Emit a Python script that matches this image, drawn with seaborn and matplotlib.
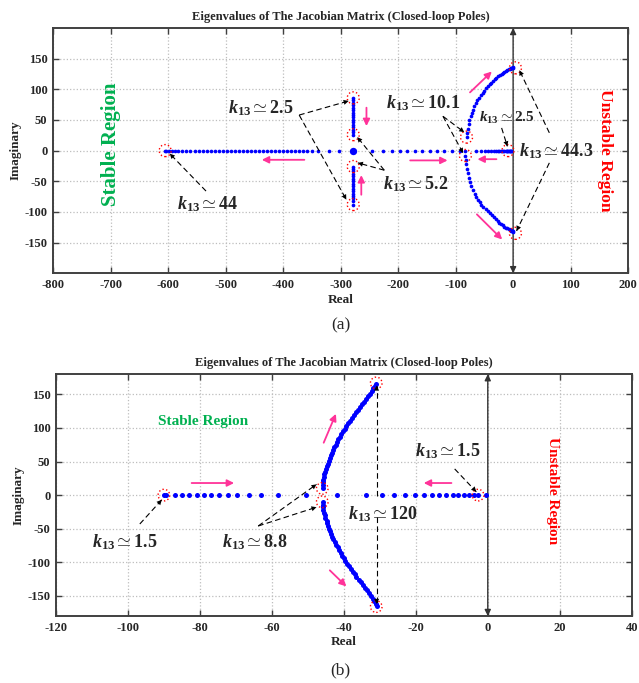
import numpy as np
import pandas as pd
import matplotlib
matplotlib.use("Agg")
import matplotlib.pyplot as plt
from matplotlib.patches import FancyArrowPatch
import seaborn as sns

# ---------------- panel (a) pole loci ----------------
a_left_real = [-303, -321, -339, -350, -358, -365, -372, -379, -386, -393, -400, -407,
               -414, -421, -428, -435, -442, -449, -456, -463, -470, -477, -484, -491,
               -498, -505, -512, -519, -526, -533, -540, -547, -554, -561, -568, -575,
               -582, -588, -594, -599, -603, -606]
a_mid_real = [-246, -226, -211, -197, -184, -171, -158, -145, -133, -120, -107, -93, -83]
a_right_real = [-64, -56, -49, -43, -38, -34, -30, -27, -24, -21.5, -19, -17, -15, -13,
                -11.5, -10, -8.5, -7, -6, -5, -4, -3]
a_vert_real = -278
a_vert_up_imag = [86, 82, 78, 74, 70, 66, 62, 58, 54, 50, 46, 42, 38, 34, 30, 26]
a_vert_dn_imag = [-26, -30, -34, -38, -42, -46, -50, -54, -58, -62, -66, -70, -74,
                  -78, -83, -88]
a_break_real = [-278]
a_break_imag = [0]
a_arc_up_real = [-81, -80, -79, -77.5, -76, -74, -72, -70, -67.5, -65, -62, -59, -56, -53,
                 -50, -47, -44, -41, -38, -35, -32, -29, -26, -23, -20, -17.5, -15, -12.5,
                 -10, -8, -6, -4.5, -3, -2, -1, 0]
a_arc_up_imag = [22, 29, 36, 43, 50, 56, 62, 67, 72, 77, 82, 86, 90, 94, 98, 102, 105, 108,
                 111, 114, 116, 118.5, 121, 123, 125, 127, 128.5, 130, 131.5, 132.5, 133.5,
                 134, 134.5, 135, 135.5, 136]
a_arc_dn_real = [-83, -82.5, -81.5, -80, -78.5, -76.5, -74.5, -72.5, -70, -67, -64, -61,
                 -58, -55, -51.5, -48, -44.5, -41, -37.5, -34, -30.5, -27, -24, -21, -18,
                 -15, -12.5, -10, -8, -6, -4.5, -3, -2, -1, 0]
a_arc_dn_imag = [-8, -15, -22, -30, -37, -44, -51, -58, -64, -70, -75, -80, -84, -88, -91.5,
                 -95, -98.5, -102, -105.5, -109, -112, -115, -117.5, -120, -122, -124,
                 -125.5, -127, -128, -129, -130, -130.5, -131, -131.5, -132]
a_mark_real = [-605, -278, -278, -278, -278, -81, -83, -9, 4, 4]
a_mark_imag = [0, 86, -88, 26, -26, 22, -8, 0, 135, -135]

# ---------------- panel (b) pole loci ----------------
b_left_real = [-90, -89.3, -87, -85.1, -83, -80.9, -78.9, -76.8, -74.6, -72.3, -69.6,
               -66.4, -62.9, -58.2, -50.4]
b_right_real = [-41.9, -33.9, -29.5, -26.1, -23.1, -20.3, -17.8, -15.5, -13.5, -11.7,
                -9.8, -8.2, -6.6, -5.2, -3.9, -2.7, -0.4]
b_arc_up_real = [-45.9, -45.9, -45.8, -45.7, -45.6, -45.4, -45.2, -45.0, -44.8, -44.5,
                 -44.2, -43.9, -43.6, -43.3, -43.0, -42.7, -42.3, -41.9, -41.5, -41.1,
                 -40.7, -40.2, -39.8, -39.3, -38.8, -38.3, -37.8, -37.2, -36.6, -36.0,
                 -35.4, -34.9, -34.4, -33.8, -33.3, -32.8, -32.3, -31.8, -31.3, -31.0]
b_arc_up_imag = [11, 15, 19, 23, 27, 31, 35, 39, 43, 47, 51, 55, 59, 63, 67, 71, 75, 79,
                 83, 87, 91, 95, 99, 103, 107, 111, 115, 119, 123, 127, 131, 135, 139, 143,
                 147, 151, 155, 159, 163, 166]
b_arc_dn_real = [-45.9, -45.9, -45.8, -45.7, -45.5, -45.3, -45.1, -44.8, -44.6, -44.3,
                 -44.0, -43.8, -43.5, -43.2, -42.9, -42.5, -42.1, -41.7, -41.3, -40.9,
                 -40.5, -40.0, -39.6, -39.1, -38.6, -38.1, -37.5, -37.0, -36.5, -35.9,
                 -35.3, -34.7, -34.0, -33.5, -33.0, -32.5, -32.0, -31.5, -31.1, -30.9]
b_arc_dn_imag = [-10, -14, -18, -22, -26, -30, -34, -38, -42, -46, -50, -54, -58, -62, -66,
                 -70, -74, -78, -82, -86, -90, -94, -98, -102, -106, -110, -114, -118, -122,
                 -126, -130, -134, -138, -142, -146, -150, -154, -158, -162, -165]
b_mark_real = [-90, -46, -46, -2.7, -31, -31]
b_mark_imag = [0, 10, -10, 0, 167, -166]

a_xticks = [-800, -700, -600, -500, -400, -300, -200, -100, 0, 100, 200]
a_yticks = [-150, -100, -50, 0, 50, 100, 150]
b_xticks = [-120, -100, -80, -60, -40, -20, 0, 20, 40]
b_yticks = [-150, -100, -50, 0, 50, 100, 150]

title_text = "Eigenvalues of The Jacobian Matrix (Closed-loop Poles)"

sns.set_style("ticks")
plt.rcParams["font.family"] = ["Liberation Serif", "DejaVu Serif"]
plt.rcParams["font.weight"] = "bold"
plt.rcParams["axes.unicode_minus"] = False
plt.rcParams["mathtext.fontset"] = "custom"
plt.rcParams["mathtext.rm"] = "Liberation Serif:bold"
plt.rcParams["mathtext.it"] = "Liberation Serif:italic:bold"
plt.rcParams["mathtext.bf"] = "Liberation Serif:bold"

BLUE = "#0000FF"
PINK = "#FF3399"
GREEN = "#00B050"
SPINE = "#404040"


def frame(parts):
    rows = []
    for name, re, im in parts:
        for r, i in zip(re, im):
            rows.append({"branch": name, "real": r, "imag": i})
    return pd.DataFrame(rows)


df_a = frame([
    ("left", a_left_real, [0] * len(a_left_real)),
    ("mid", a_mid_real, [0] * len(a_mid_real)),
    ("right", a_right_real, [0] * len(a_right_real)),
    ("vert_up", [a_vert_real] * len(a_vert_up_imag), a_vert_up_imag),
    ("vert_dn", [a_vert_real] * len(a_vert_dn_imag), a_vert_dn_imag),
    ("arc_up", a_arc_up_real, a_arc_up_imag),
    ("arc_dn", a_arc_dn_real, a_arc_dn_imag),
])
df_b = frame([
    ("left", b_left_real, [0] * len(b_left_real)),
    ("right", b_right_real, [0] * len(b_right_real)),
    ("arc_up", b_arc_up_real, b_arc_up_imag),
    ("arc_dn", b_arc_dn_real, b_arc_dn_imag),
])

fig = plt.figure(figsize=(6.39, 6.83), dpi=100)
ax1 = fig.add_axes([0.083, 0.600, 0.900, 0.359])
ax2 = fig.add_axes([0.0876, 0.0981, 0.901, 0.354])


def style_axes(ax, xlim, ylim, xticks, yticks):
    ax.set_xlim(*xlim)
    ax.set_ylim(*ylim)
    ax.set_xticks(xticks)
    ax.set_yticks(yticks)
    ax.set_xticklabels([str(t) for t in xticks])
    ax.set_yticklabels([str(t) for t in yticks])
    ax.grid(True, linestyle=":", color="#BDBDBD", linewidth=0.9)
    ax.set_axisbelow(True)
    for s in ax.spines.values():
        s.set_color(SPINE)
        s.set_linewidth(1.4)
    ax.tick_params(direction="in", length=4, width=1.0, color=SPINE,
                   top=True, right=True, labelsize=9, pad=4)
    for lab in ax.get_xticklabels() + ax.get_yticklabels():
        lab.set_fontweight("bold")
    ax.set_title(title_text, fontsize=9, fontweight="bold", pad=6)
    # imaginary axis with arrow heads at both ends
    ax.annotate("", xy=(0, ylim[1]), xytext=(0, ylim[0]),
                arrowprops=dict(arrowstyle="<|-|>", color="#333333", lw=1.0,
                                mutation_scale=9, shrinkA=0, shrinkB=0))


def k_label(ax, x, y, value, size=13, **kw):
    ax.text(x, y, r"$k_{\mathit{13}}\simeq$" + value, fontsize=size,
            fontweight="bold", ha="center", va="center", **kw)


def dash_arrow(ax, start, end):
    # dashed shaft with a solid filled head
    ax.plot([start[0], end[0]], [start[1], end[1]], color="black", lw=0.8,
            linestyle=(0, (5, 3)), zorder=5)
    head = FancyArrowPatch(start, end, arrowstyle="-|>", color="black", lw=0.01,
                           mutation_scale=9, shrinkA=0, shrinkB=0, zorder=5)
    ax.add_patch(head)


def pink_arrow(ax, start, end):
    ax.annotate("", xy=end, xytext=start,
                arrowprops=dict(arrowstyle="-|>", color=PINK, lw=1.3,
                                mutation_scale=10, shrinkA=0, shrinkB=0))


# ---------------- panel (a) ----------------
style_axes(ax1, (-800, 200), (-200, 200), a_xticks, a_yticks)
sns.scatterplot(data=df_a, x="real", y="imag", ax=ax1, color=BLUE, s=7,
                linewidth=0, legend=False, zorder=3)
ax1.scatter(a_break_real, a_break_imag, s=28, color=BLUE, linewidths=0, zorder=3)
ax1.scatter(a_mark_real, a_mark_imag, s=75, facecolors="none", edgecolors="red",
            linestyles=":", linewidths=1.0, zorder=4)
ax1.set_xlabel("Real", fontsize=9.5, fontweight="bold", labelpad=2)
ax1.set_ylabel("Imaginary", fontsize=9.5, fontweight="bold", labelpad=2)

ax1.text(-700, 10, "Stable Region", color=GREEN, fontsize=15, fontweight="bold",
         rotation=90, ha="center", va="center")
ax1.text(160, 0, "Unstable Region", color="red", fontsize=12.5, fontweight="bold",
         rotation=-90, ha="center", va="center")

k_label(ax1, -532, -88, "44")
dash_arrow(ax1, (-534, -66), (-597, -5))
k_label(ax1, -438, 70, "2.5")
dash_arrow(ax1, (-372, 58), (-286, 81))
dash_arrow(ax1, (-372, 58), (-290, -80))
k_label(ax1, -169, -55, "5.2")
dash_arrow(ax1, (-224, -32), (-271, 22))
dash_arrow(ax1, (-224, -32), (-270, -20))
k_label(ax1, -157, 78, "10.1")
dash_arrow(ax1, (-122, 56), (-85, 30))
dash_arrow(ax1, (-122, 56), (-87, -4))
k_label(ax1, -11, 53, "2.5", size=11)
dash_arrow(ax1, (-20, 37), (-10, 7))
k_label(ax1, 75, -1, "44.3")
dash_arrow(ax1, (63, 29), (11, 131))
dash_arrow(ax1, (63, -20), (6, -131))

pink_arrow(ax1, (-363, -15), (-437, -15))
pink_arrow(ax1, (-179, -16), (-114, -16))
pink_arrow(ax1, (-29, -14), (-62, -14))
pink_arrow(ax1, (-255, 70), (-255, 40))
pink_arrow(ax1, (-264, -72), (-264, -40))
pink_arrow(ax1, (-75, 95), (-37, 129))
pink_arrow(ax1, (-63, -104), (-19, -145))

# ---------------- panel (b) ----------------
style_axes(ax2, (-120, 40), (-180, 180), b_xticks, b_yticks)
sns.scatterplot(data=df_b, x="real", y="imag", ax=ax2, color=BLUE, s=13,
                linewidth=0, legend=False, zorder=3)
ax2.scatter(b_mark_real, b_mark_imag, s=70, facecolors="none", edgecolors="red",
            linestyles=":", linewidths=1.0, zorder=4)
ax2.set_xlabel("Real", fontsize=9.5, fontweight="bold", labelpad=2)
ax2.set_ylabel("Imaginary", fontsize=9.5, fontweight="bold", labelpad=2)

ax2.text(-79, 110, "Stable Region", color=GREEN, fontsize=11, fontweight="bold",
         ha="center", va="center")
ax2.text(18, 7, "Unstable Region", color="red", fontsize=11, fontweight="bold",
         rotation=-90, ha="center", va="center")

k_label(ax2, -101, -70, "1.5")
dash_arrow(ax2, (-96.7, -43), (-90.6, -7))
k_label(ax2, -64.7, -70, "8.8")
dash_arrow(ax2, (-63.8, -46), (-47.6, 16))
dash_arrow(ax2, (-63.8, -46), (-47.6, -18))
k_label(ax2, -29, -28, "120")
dash_arrow(ax2, (-30.9, -2), (-30.9, 163))
dash_arrow(ax2, (-30.9, -33), (-30.9, -162))
k_label(ax2, -11, 66, "1.5")
dash_arrow(ax2, (-9.2, 39), (-3.2, 5))

pink_arrow(ax2, (-82.3, 18), (-70.5, 18))
pink_arrow(ax2, (-10.1, 18), (-17.8, 18))
pink_arrow(ax2, (-45.6, 78), (-42.2, 121))
pink_arrow(ax2, (-43.9, -112), (-39.3, -136))

fig.text(0.533, 1 - 325 / 683, "(a)", fontsize=12.5, fontweight="normal",
         ha="center", va="center")
fig.text(0.533, 1 - 670 / 683, "(b)", fontsize=12.5, fontweight="normal",
         ha="center", va="center")

fig.savefig("out.png", dpi=100)
